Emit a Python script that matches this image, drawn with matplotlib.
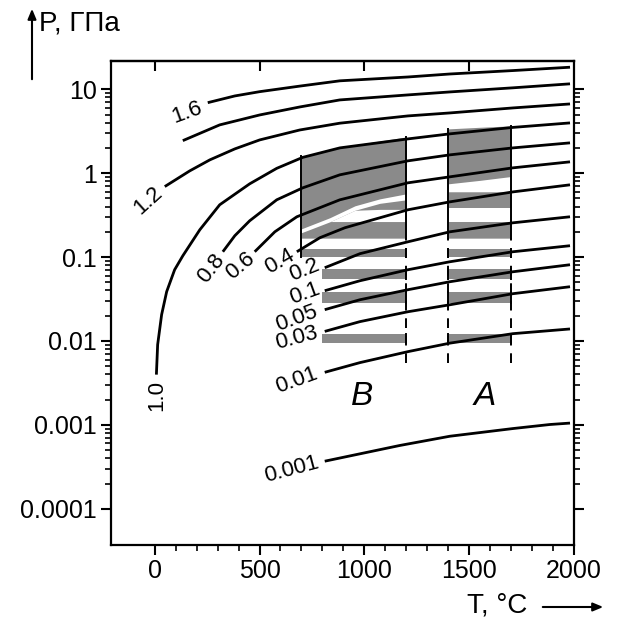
import numpy as np
import matplotlib
matplotlib.use('Agg')
import matplotlib.pyplot as plt
from matplotlib.ticker import NullLocator, FixedLocator

plt.rcParams['font.family'] = ['Liberation Sans', 'DejaVu Sans']

# ---------------- data (T in degC, P in GPa) ----------------
T_16 = [253, 382, 501, 692, 883, 1208, 1408, 1709, 1981]
P_16 = [6.92, 8.32, 9.36, 10.9, 12.6, 14.0, 15.2, 16.7, 18.3]

T_14 = [134, 310, 501, 692, 883, 1208, 1408, 1709, 1981]
P_14 = [2.44, 3.76, 4.94, 6.15, 7.46, 8.56, 9.29, 10.4, 11.6]

T_12 = [48, 167, 263, 382, 501, 692, 883, 1208, 1408, 1709, 1981]
P_12 = [0.692, 1.064, 1.44, 1.945, 2.49, 3.27, 3.94, 4.81, 5.22, 5.99, 6.68]

T_10 = [8, 14, 33, 57, 95, 134, 215, 310, 453, 582, 706, 883, 1208, 1408, 1709, 1981]
P_10 = [0.00397, 0.00904, 0.0206, 0.0387, 0.0706, 0.1035, 0.2113, 0.4198, 0.746,
        1.141, 1.542, 2.0, 2.56, 2.94, 3.51, 3.97]

T_08 = [325, 382, 453, 582, 706, 883, 1208, 1408, 1709, 1981]
P_08 = [0.1157, 0.1795, 0.2706, 0.481, 0.668, 0.955, 1.402, 1.652, 2.0, 2.296]

T_06 = [477, 573, 678, 883, 1208, 1408, 1709, 1981]
P_06 = [0.1157, 0.200, 0.302, 0.481, 0.767, 0.904, 1.157, 1.364]

T_04 = [678, 788, 907, 1208, 1408, 1709, 1981]
P_04 = [0.1157, 0.170, 0.2234, 0.366, 0.455, 0.598, 0.726]

T_low = [811, 979, 1208, 1408, 1709, 1981]
P_02 = [0.0746, 0.1097, 0.152, 0.200, 0.256, 0.302]
P_01 = [0.0397, 0.0522, 0.0706, 0.0879, 0.1157, 0.1365]
P_005 = [0.0236, 0.031, 0.0408, 0.0508, 0.0668, 0.081]
P_003 = [0.0130, 0.0170, 0.0223, 0.0270, 0.0366, 0.0443]
P_001 = [0.00423, 0.00552, 0.00746, 0.00942, 0.01222, 0.0139]

T_0001 = [811, 1169, 1408, 1709, 1885, 1981]
P_0001 = [0.000369, 0.000568, 0.000732, 0.000904, 0.00101, 0.00105]

# label text, curve, label offset (points), rotation
curves = [
    ('1.6', T_16, P_16, (-15, -7), 20),
    (None, T_14, P_14, None, 0),
    ('1.2', T_12, P_12, (-12, -10), 42),
    ('1.0', T_10, P_10, (0, -15), 90),
    ('0.8', T_08, P_08, (-8, -12), 52),
    ('0.6', T_06, P_06, (-10, -10), 40),
    ('0.4', T_04, P_04, (-12, -7), 30),
    ('0.2', T_low, P_02, (-15, -2), 22),
    ('0.1', T_low, P_01, (-14, -2), 20),
    ('0.05', T_low, P_005, (-20, -6), 20),
    ('0.03', T_low, P_003, (-20, -5), 15),
    ('0.01', T_low, P_001, (-20, -6), 20),
    ('0.001', T_0001, P_0001, (-24, -6), 15),
]

# region B (700-1200) and A (1400-1700)
B_T = [700, 950, 1200]
B_top = [1.58, 2.17, 2.70]
A_T = [1400, 1550, 1700]
A_top = [3.37, 3.52, 3.66]
B_cres_T = [700, 835, 955, 1074, 1200]
B_cres_up = [0.217, 0.294, 0.408, 0.494, 0.567]
B_cres_low = [0.195, 0.263, 0.361, 0.437, 0.481]
A_cres_T = [1400, 1550, 1700]
A_cres_top = [0.746, 0.82, 0.912]
A_cres_bottom = 0.6
big_bottom = 0.168
gap_lo = 0.265
B_gap_hi = 0.37
A_gap_hi = 0.38
bands = [(0.1, 0.125), (0.055, 0.072), (0.028, 0.038), (0.0095, 0.0122)]
B_band_start = [700, 800, 800, 800]
B_end, A_start, A_end = 1200, 1400, 1700
dash_bottom = 0.0055

GRAY = '#8a8a8a'

fig = plt.figure(figsize=(6.17, 6.23), dpi=100)
ax = fig.add_axes([0.1794, 0.1252, 0.7509, 0.7774])
ax.set_yscale('log')
ax.set_xlim(-210, 2000)
ax.set_ylim(3.7e-5, 21.9)

# ---- gray regions ----
ax.fill_between(B_T, big_bottom, B_top, color=GRAY, lw=0, zorder=1)
ax.fill_between(A_T, big_bottom, A_top, color=GRAY, lw=0, zorder=1)
bl = np.array(B_cres_low)
ax.fill_between(B_cres_T, gap_lo, np.minimum(bl, B_gap_hi), where=bl > gap_lo,
                interpolate=True, color='white', lw=0, zorder=1.5)
ax.fill_between(B_cres_T, B_cres_low, B_cres_up, color='white', lw=0, zorder=1.6)
ax.fill_between([A_start, A_end], gap_lo, A_gap_hi, color='white', lw=0, zorder=1.5)
ax.fill_between(A_cres_T, A_cres_bottom, A_cres_top, color='white', lw=0, zorder=1.6)
for (lo, hi), bs in zip(bands, B_band_start):
    ax.fill_between([bs, B_end], lo, hi, color=GRAY, lw=0, zorder=1)
    ax.fill_between([A_start, A_end], lo, hi, color=GRAY, lw=0, zorder=1)
    for xe in (B_end, A_start, A_end):
        ax.plot([xe, xe], [lo, hi], color='black', lw=1.4, zorder=2)

# edges of the boxes
ax.plot([700, 700], [bands[0][0], B_top[0]], color='black', lw=1.4, zorder=2)
ax.plot([B_end, B_end], [big_bottom, B_top[-1]], color='black', lw=1.4, zorder=2)
ax.plot([A_start, A_start], [big_bottom, A_top[0]], color='black', lw=1.4, zorder=2)
ax.plot([A_end, A_end], [big_bottom, A_top[-1]], color='black', lw=1.4, zorder=2)
for xe in (B_end, A_start, A_end):
    ax.plot([xe, xe], [dash_bottom, big_bottom], color='black', lw=1.4,
            dashes=(5, 4), zorder=2)

# ---- isolines ----
for lab, T, P, off, rot in curves:
    ax.plot(T, P, color='black', lw=2.0, solid_capstyle='butt', zorder=3)
    if lab:
        ax.annotate(lab, (T[0], P[0]), xytext=off, textcoords='offset points',
                    ha='center', va='center', rotation=rot, fontsize=16, zorder=4)

ax.text(990, 0.00217, 'B', style='italic', fontsize=24, ha='center', va='center')
ax.text(1575, 0.00217, 'A', style='italic', fontsize=24, ha='center', va='center')

# ---- ticks ----
ax.set_yticks([1e-4, 1e-3, 1e-2, 1e-1, 1, 10])
ax.set_yticklabels(['0.0001', '0.001', '0.01', '0.1', '1', '10'])
ax.yaxis.set_minor_locator(FixedLocator([k * 10.0**e for e in range(-4, 1) for k in range(2, 10)]))
ax.set_xticks([0, 500, 1000, 1500, 2000])
ax.set_xticklabels(['0', '500', '1000', '1500', '2000'])
ax.xaxis.set_minor_locator(FixedLocator([t for t in range(100, 2000, 100) if t % 500]))
ax.tick_params(axis='both', which='major', direction='out', length=7, width=1.5,
               labelsize=18, pad=3)
ax.tick_params(axis='both', which='minor', direction='out', length=4, width=1.2)
ax.tick_params(axis='y', which='both', left=True, right=True)
ax.tick_params(axis='x', which='both', top=False)
sec = ax.secondary_xaxis('top')
sec.set_xticks([0, 500, 1000, 1500])
sec.xaxis.set_minor_locator(NullLocator())
sec.tick_params(direction='in', length=7, width=1.5, labeltop=False)
for s in ax.spines.values():
    s.set_linewidth(1.6)
sec.spines['top'].set_linewidth(1.6)

# ---- axis titles with arrows ----
fig.text(39 / 617, 1 - 24 / 623, 'P, ГПа', fontsize=20, ha='left', va='center')
fig.patches.append(matplotlib.patches.FancyArrowPatch(
    (32 / 617, 1 - 82 / 623), (32 / 617, 1 - 6 / 623), transform=fig.transFigure,
    arrowstyle='-|>,head_length=6,head_width=2.5', color='black', lw=1.5))
fig.text(467 / 617, 1 - 606 / 623, 'T, °C', fontsize=20, ha='left', va='center')
fig.patches.append(matplotlib.patches.FancyArrowPatch(
    (540 / 617, 1 - 607 / 623), (606 / 617, 1 - 607 / 623), transform=fig.transFigure,
    arrowstyle='-|>,head_length=6,head_width=2.5', color='black', lw=1.5))

fig.savefig('out.png', dpi=100)
